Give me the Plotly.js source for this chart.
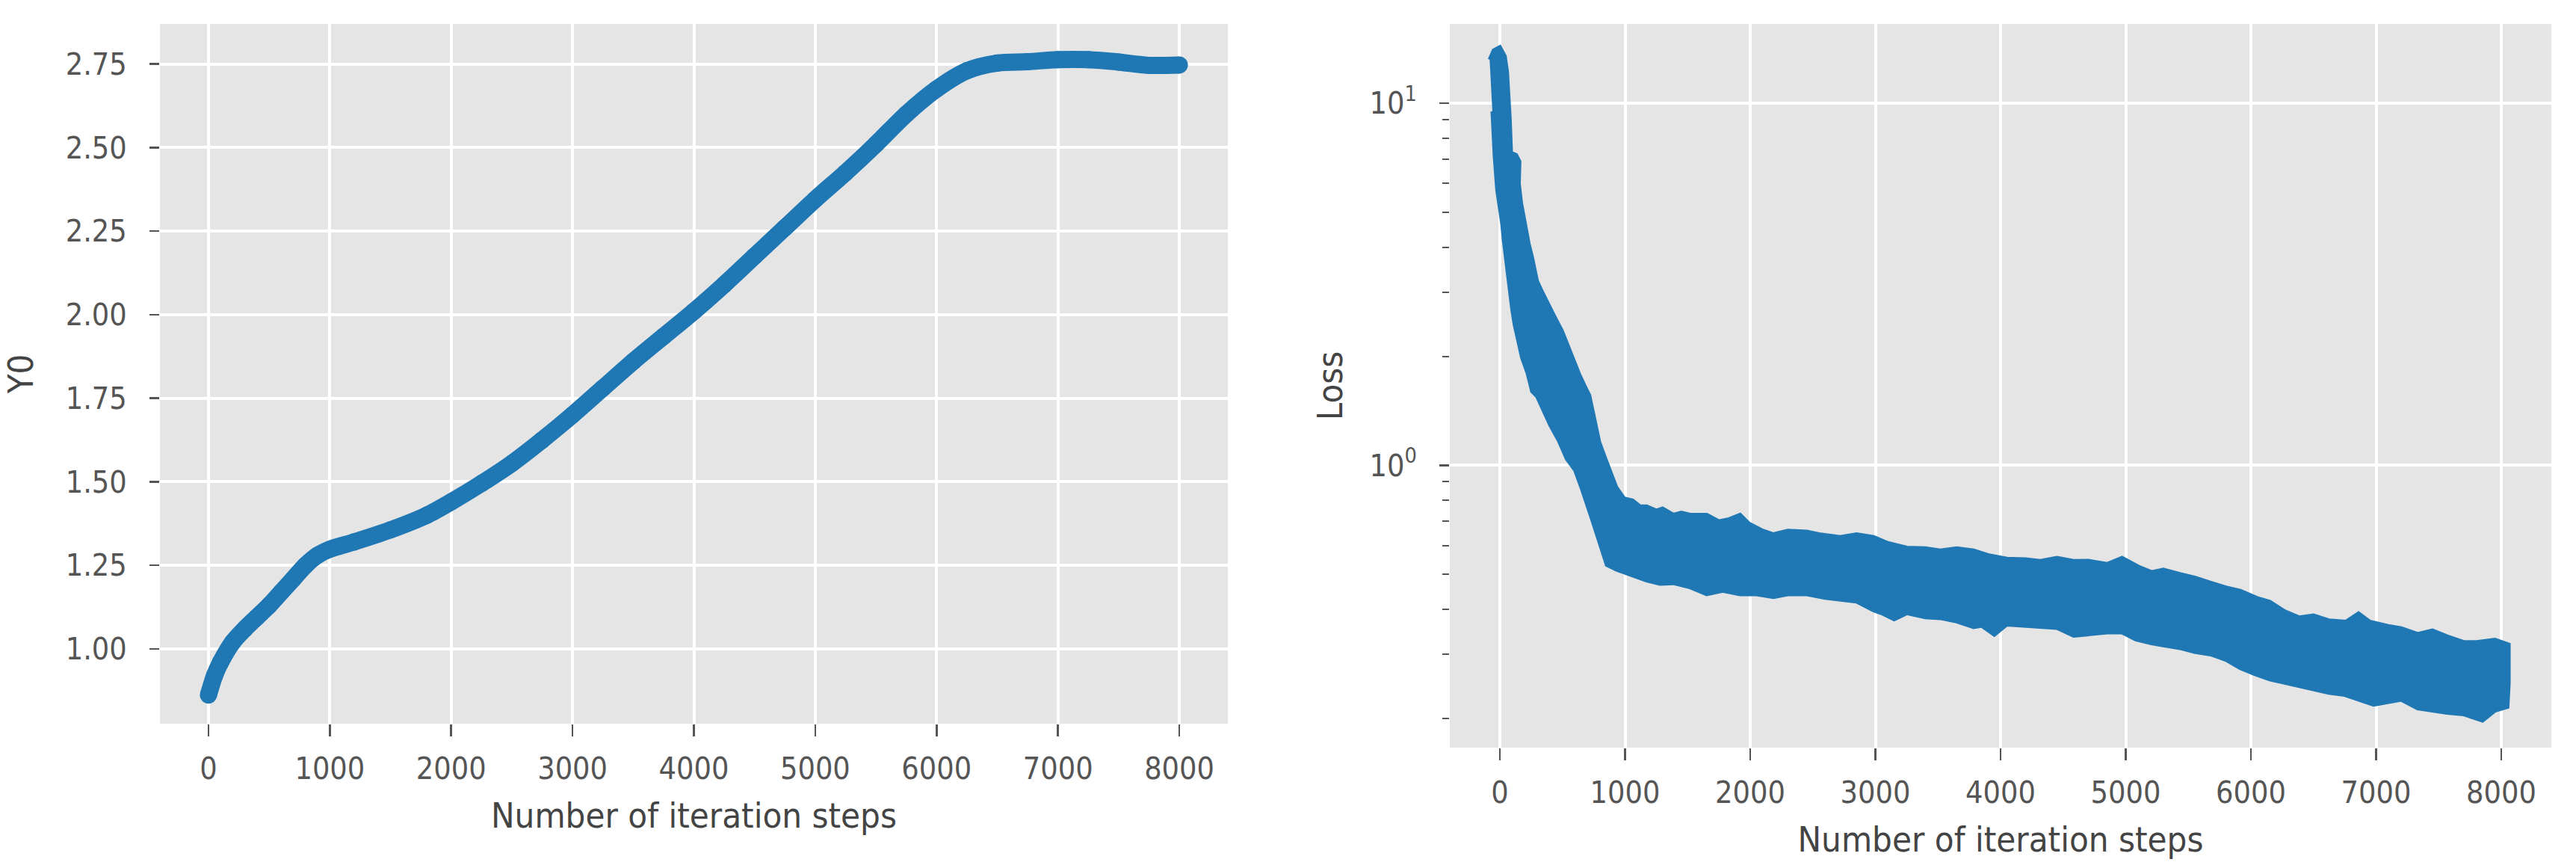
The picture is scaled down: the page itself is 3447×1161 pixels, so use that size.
<!DOCTYPE html>
<html>
<head>
<meta charset="utf-8">
<script src="https://cdn.plot.ly/plotly-3.0.1.min.js"></script>
<style>
html,body{margin:0;padding:0;background:#ffffff;}
#chart{width:3447px;height:1161px;}
</style>
</head>
<body>
<div id="chart"></div>
<script>
// ---------- data ----------
const stepTicks = [0, 1000, 2000, 3000, 4000, 5000, 6000, 7000, 8000];

// Left panel: Y0 vs iteration
const y0Steps  = [0, 50, 100, 200, 300, 400, 500, 600, 700, 800, 900, 1000, 1200, 1500, 1800, 2000, 2250, 2500, 2750, 3000, 3250, 3500, 3750, 4000, 4250, 4500, 4750, 5000, 5250, 5500, 5750, 6000, 6250, 6500, 6750, 7000, 7250, 7500, 7750, 8000];
const y0Values = [0.862, 0.92, 0.96, 1.02, 1.06, 1.095, 1.13, 1.17, 1.21, 1.25, 1.28, 1.298, 1.32, 1.356, 1.40, 1.44, 1.495, 1.555, 1.625, 1.70, 1.78, 1.86, 1.935, 2.01, 2.09, 2.175, 2.26, 2.345, 2.425, 2.51, 2.60, 2.675, 2.73, 2.753, 2.757, 2.763, 2.763, 2.756, 2.746, 2.747];

// Right panel: noisy loss, read as upper and lower envelope of the point cloud
const lossUpperSteps  = [-82, -50, 0, 40, 58, 70, 80, 90, 130, 157, 152, 170, 197, 230, 257, 297, 330, 376, 430, 496, 540, 575, 635, 680, 715, 740, 794, 840, 874, 930, 993, 1060, 1120, 1173, 1250, 1300, 1386, 1450, 1520, 1652, 1750, 1830, 1919, 1990, 2100, 2186, 2300, 2452, 2550, 2719, 2850, 2985, 3100, 3252, 3400, 3518, 3650, 3785, 3900, 4051, 4200, 4318, 4450, 4584, 4700, 4851, 4970, 5100, 5206, 5300, 5443, 5550, 5679, 5800, 5915, 6050, 6151, 6270, 6387, 6500, 6623, 6760, 6860, 6950, 7096, 7200, 7332, 7450, 7568, 7700, 7804, 7950, 8060];
const lossUpperValues = [13.2, 14.0, 14.3, 13.5, 12.2, 10.5, 9.0, 7.3, 7.2, 6.9, 6.0, 5.3, 4.65, 4.1, 3.76, 3.23, 3.05, 2.85, 2.6, 2.35, 2.15, 1.98, 1.78, 1.65, 1.56, 1.42, 1.16, 1.05, 0.98, 0.87, 0.81, 0.80, 0.77, 0.77, 0.75, 0.76, 0.73, 0.74, 0.73, 0.73, 0.70, 0.71, 0.73, 0.69, 0.66, 0.645, 0.66, 0.656, 0.645, 0.634, 0.645, 0.634, 0.61, 0.592, 0.59, 0.582, 0.59, 0.582, 0.565, 0.552, 0.55, 0.544, 0.555, 0.544, 0.545, 0.534, 0.555, 0.525, 0.507, 0.515, 0.50, 0.49, 0.474, 0.46, 0.45, 0.43, 0.42, 0.395, 0.38, 0.385, 0.373, 0.37, 0.39, 0.37, 0.36, 0.355, 0.342, 0.35, 0.337, 0.325, 0.325, 0.33, 0.32];
const lossLowerSteps  = [-60, -42, -22, 0, 18, 30, 48, 60, 78, 98, 117, 145, 177, 220, 257, 297, 330, 402, 470, 535, 600, 655, 730, 774, 814, 854, 930, 1013, 1100, 1173, 1280, 1386, 1520, 1652, 1780, 1919, 2050, 2186, 2300, 2452, 2600, 2719, 2850, 2985, 3050, 3150, 3252, 3400, 3518, 3650, 3785, 3850, 3950, 4051, 4200, 4318, 4450, 4584, 4700, 4851, 4970, 5080, 5206, 5300, 5443, 5550, 5679, 5800, 5915, 6030, 6151, 6270, 6387, 6500, 6623, 6750, 6860, 6980, 7096, 7200, 7332, 7450, 7568, 7700, 7850, 7950, 8050, 8060];
const lossLowerValues = [9.5, 7.13, 5.76, 5.2, 4.65, 4.2, 3.76, 3.4, 3.04, 2.7, 2.45, 2.2, 1.98, 1.8, 1.60, 1.55, 1.45, 1.29, 1.17, 1.04, 0.97, 0.86, 0.72, 0.65, 0.587, 0.53, 0.515, 0.50, 0.49, 0.48, 0.47, 0.472, 0.46, 0.44, 0.45, 0.44, 0.44, 0.432, 0.44, 0.44, 0.43, 0.425, 0.42, 0.397, 0.39, 0.375, 0.39, 0.38, 0.378, 0.37, 0.357, 0.36, 0.34, 0.363, 0.36, 0.357, 0.355, 0.338, 0.34, 0.345, 0.345, 0.33, 0.322, 0.318, 0.312, 0.305, 0.30, 0.29, 0.275, 0.265, 0.256, 0.25, 0.245, 0.24, 0.235, 0.232, 0.225, 0.218, 0.222, 0.225, 0.213, 0.21, 0.207, 0.205, 0.197, 0.21, 0.215, 0.25];

const lossMajorTicks = [1, 10];
const lossMajorText  = ['10<sup>0</sup>', '10<sup>1</sup>'];
const lossMinorTicks = [0.2, 0.3, 0.4, 0.5, 0.6, 0.7, 0.8, 0.9, 2, 3, 4, 5, 6, 7, 8, 9];

const xTitle = 'Number of iteration steps';
const leftYTitle = 'Y0';
const rightYTitle = 'Loss';

// ---------- styling ----------
const BLUE = '#1f77b4';
const FONT = 'DejaVu Sans Condensed, DejaVu Sans, sans-serif';
const tickFont = {family: FONT, size: 41, color: '#555555'};
const titleFont = {family: FONT, size: 47, color: '#444444'};

const polyX = lossUpperSteps.concat(lossLowerSteps.slice().reverse());
const polyY = lossUpperValues.concat(lossLowerValues.slice().reverse());

const traces = [
  {
    x: y0Steps, y: y0Values, xaxis: 'x', yaxis: 'y',
    type: 'scatter', mode: 'lines+markers',
    line: {color: BLUE, width: 23, shape: 'spline', smoothing: 0.8},
    marker: {color: BLUE, size: 23},
    hoverinfo: 'x+y', showlegend: false
  },
  {
    x: polyX, y: polyY, xaxis: 'x2', yaxis: 'y2',
    type: 'scatter', mode: 'lines', fill: 'toself',
    fillcolor: BLUE,
    line: {color: BLUE, width: 5},
    hoverinfo: 'x+y', showlegend: false
  }
];

const xCommon = {
  tickmode: 'array', tickvals: stepTicks,
  ticks: 'outside', ticklen: 16, tickwidth: 2.5, tickcolor: '#555555',
  showgrid: true, gridcolor: '#ffffff', gridwidth: 4,
  zeroline: false, showline: false,
  tickfont: tickFont, ticklabelstandoff: 8,
  range: [-400, 8400], automargin: false
};

const layout = {
  width: 3447, height: 1161,
  margin: {l: 0, r: 0, t: 0, b: 0},
  paper_bgcolor: '#ffffff',
  plot_bgcolor: '#E5E5E5',
  showlegend: false,
  font: {family: FONT, color: '#555555'},
  xaxis: Object.assign({}, xCommon, {
    domain: [214/3447, 1643/3447], anchor: 'y',
    title: {text: xTitle, font: titleFont, standoff: 22}
  }),
  yaxis: {
    domain: [1 - 968/1161, 1 - 32/1161], anchor: 'x',
    range: [0.776, 2.870],
    tickmode: 'linear', tick0: 0, dtick: 0.25, tickformat: '.2f',
    ticks: 'outside', ticklen: 13, tickwidth: 2.5, tickcolor: '#555555',
    showgrid: true, gridcolor: '#ffffff', gridwidth: 4,
    zeroline: false, showline: false,
    tickfont: tickFont, ticklabelstandoff: 22, automargin: false,
    title: {text: leftYTitle, font: titleFont, standoff: 30}
  },
  xaxis2: Object.assign({}, xCommon, {
    domain: [1940/3447, 3414/3447], anchor: 'y2',
    title: {text: xTitle, font: titleFont, standoff: 22}
  }),
  yaxis2: {
    domain: [1 - 1000/1161, 1 - 32/1161], anchor: 'x2',
    type: 'log', range: [-0.780, 1.219],
    tickmode: 'array', tickvals: lossMajorTicks, ticktext: lossMajorText,
    ticks: 'outside', ticklen: 13, tickwidth: 2.5, tickcolor: '#555555',
    minor: {tickmode: 'array', tickvals: lossMinorTicks, ticks: 'outside', ticklen: 9, tickwidth: 2, tickcolor: '#555555', showgrid: false},
    showgrid: true, gridcolor: '#ffffff', gridwidth: 4,
    zeroline: false, showline: false,
    tickfont: tickFont, ticklabelstandoff: 22, automargin: false,
    title: {text: rightYTitle, font: titleFont, standoff: 20}
  }
};

Plotly.newPlot('chart', traces, layout, {staticPlot: true, displayModeBar: false});
</script>
</body>
</html>
